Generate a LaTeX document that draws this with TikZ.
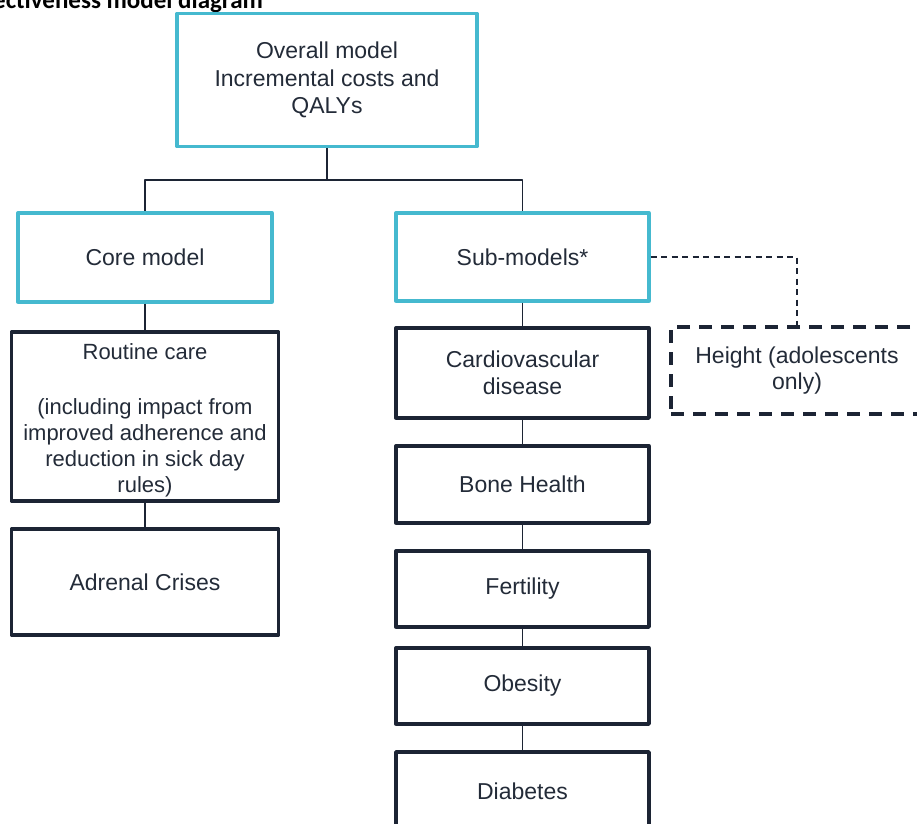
\documentclass[tikz,border=0pt]{standalone}
\usepackage{fontspec}
\setmainfont{Liberation Sans}
\newfontfamily\titlefont{Carlito}
\definecolor{boxcyan}{HTML}{45B9CF}
\definecolor{boxnavy}{HTML}{1C2434}
\definecolor{txtnavy}{HTML}{232B38}
\tikzset{
  base/.style={rectangle, inner sep=0pt, align=center, text=txtnavy,
    font=\fontsize{23}{26.5}\selectfont},
  cyanbox/.style={base, draw=boxcyan, line width=3.3pt, minimum width=253pt},
  navybox/.style={base, draw=boxnavy, line width=3.3pt, minimum width=253pt},
  dashbox/.style={base, draw=boxnavy, line width=3.3pt, dash pattern=on 13pt off 9pt},
  link/.style={draw=boxnavy, line width=1.7pt},
}
\begin{document}
\begin{tikzpicture}[x=1pt,y=-1pt,line join=round]
  \useasboundingbox (0,0) rectangle (917,823);
  \clip (0,0) rectangle (917,823);
  % cut title
  \node[anchor=base west, inner sep=0pt, font=\titlefont\bfseries\fontsize{25}{28}\selectfont] (title) at (-7,8) {ectiveness model diagram};
  % top level
  \node[cyanbox, minimum width=300pt, minimum height=133pt] (overall) at (327,80) {Overall model\\[1pt]Incremental costs and\\[1pt]QALYs};
  \node[cyanbox, minimum width=254pt, minimum height=89pt] (core) at (145,257.5) {Core model};
  \node[cyanbox, minimum height=88pt] (sub) at (522.5,257) {Sub-models*};
  % core branch
  \node[navybox, minimum width=267pt, minimum height=169pt] (routine) at (145,416.5) {};
  \node[base, font=\fontsize{22}{26}\selectfont] (routinetext) at (145,420.5) {Routine care\\[29pt](including impact from\\improved adherence and\\reduction in sick day\\rules)};
  \node[navybox, minimum width=267pt, minimum height=106pt] (adrenal) at (145,582) {Adrenal Crises};
  % sub-model branch
  \node[navybox, minimum height=90pt] (cardio) at (522.5,373) {Cardiovascular\\disease};
  \node[navybox, minimum height=77pt] (bone) at (522.5,484.5) {Bone Health};
  \node[navybox, minimum height=76pt] (fertility) at (522.5,589) {Fertility};
  \node[navybox, minimum height=76pt] (obesity) at (522.5,686) {Obesity};
  \node[navybox, line width=3.8pt, minimum height=100pt] (diabetes) at (522.5,802) {};
  \node[base] (diabtext) at (522.5,791) {Diabetes};
  \node[dashbox, minimum width=252pt, minimum height=87pt] (height) at (797,370.5) {Height (adolescents\\only)};
  % connectors
  \coordinate (split) at (327,180);
  \draw[link] (overall.south) -- (split);
  \draw[link] (split) -| (core.north);
  \draw[link] (split) -| (sub.north);
  \draw[link] (core.south) -- (routine.north);
  \draw[link] (routine.south) -- (adrenal.north);
  \draw[link] (sub.south) -- (cardio.north);
  \draw[link] (cardio.south) -- (bone.north);
  \draw[link] (bone.south) -- (fertility.north);
  \draw[link] (fertility.south) -- (obesity.north);
  \draw[link] (obesity.south) -- (diabetes.north);
  \draw[link, dash pattern=on 6pt off 4.5pt] (sub.east) -| (height.north);
\end{tikzpicture}
\end{document}
